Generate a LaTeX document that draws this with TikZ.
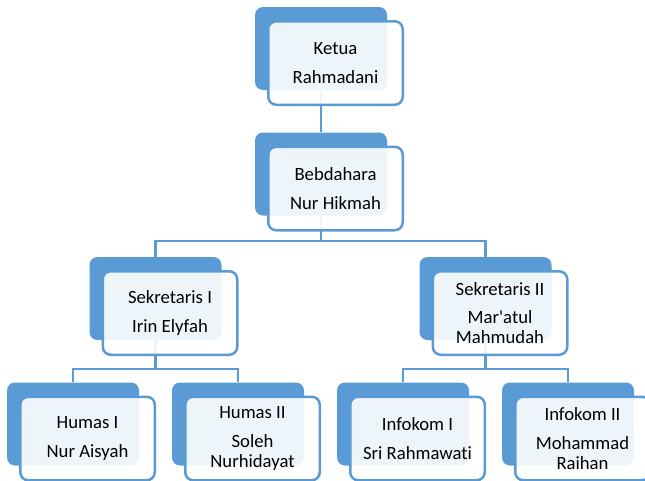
\documentclass[tikz,border=0pt]{standalone}
\usepackage{fontspec}
\setmainfont{Carlito}[Ligatures={NoCommon}]
\usetikzlibrary{calc}
\definecolor{sablue}{HTML}{5B9BD5}
\tikzset{
  backbox/.style={fill=sablue, draw=none, rounded corners=8pt, minimum width=132pt, minimum height=83pt, inner sep=0pt},
  frontbox/.style={draw=sablue, line width=2.5pt, fill=white, fill opacity=0.9, text opacity=1, rounded corners=8pt,
    minimum width=134.5pt, minimum height=83.5pt, inner sep=0pt, align=center, text=black,
    font=\fontsize{18.7}{20}\selectfont},
  conn/.style={draw=sablue, line width=2.5pt}
}
\newcommand{\psep}{\\[8.5pt]}
\begin{document}
\begin{tikzpicture}[x=1pt,y=-1pt]
\useasboundingbox (0,0) rectangle (645,480);
\begin{scope}
\clip (0,0) rectangle (645,480);
% back boxes
\node[backbox] (kb) at (321,48.5) {};
\node[backbox] (bb) at (321,174) {};
\node[backbox] (s1b) at (155.5,298.5) {};
\node[backbox] (s2b) at (485.5,298.5) {};
\node[backbox] (h1b) at (73,424) {};
\node[backbox] (h2b) at (238,424) {};
\node[backbox] (i1b) at (403,424) {};
\node[backbox] (i2b) at (568,424) {};
% connectors
\coordinate (j1) at (321,241);
\coordinate (j2) at (155.5,369);
\coordinate (j3) at (485.5,369);
\draw[conn] (kb.south) -- (bb.north);
\draw[conn] (bb.south) -- (j1);
\draw[conn] (s1b.north) |- (j1) -| (s2b.north);
\draw[conn] (s1b.south) -- (j2);
\draw[conn] (h1b.north) |- (j2) -| (h2b.north);
\draw[conn] (s2b.south) -- (j3);
\draw[conn] (i1b.north) |- (j3) -| (i2b.north);
% front boxes
\node[frontbox] (kf) at ($(kb)+(14.5,14.5)$) {Ketua\psep Rahmadani};
\node[frontbox] (bf) at ($(bb)+(14.5,14.5)$) {Bebdahara\psep Nur Hikmah};
\node[frontbox] (s1f) at ($(s1b)+(14.5,14.5)$) {Sekretaris I\psep Irin Elyfah};
\node[frontbox] (s2f) at ($(s2b)+(14.5,14.5)$) {Sekretaris II\psep Mar\textquotesingle atul\\Mahmudah};
\node[frontbox] (h1f) at ($(h1b)+(14.5,14.5)$) {Humas I\psep Nur Aisyah};
\node[frontbox] (h2f) at ($(h2b)+(14.5,14.5)$) {Humas II\psep Soleh\\Nurhidayat};
\node[frontbox] (i1f) at ($(i1b)+(14.5,14.5)$) {Infokom I\psep Sri Rahmawati};
\node[frontbox] (i2f) at ($(i2b)+(14.5,14.5)$) {Infokom II\psep Mohammad\\Raihan};
\end{scope}
\end{tikzpicture}
\end{document}
